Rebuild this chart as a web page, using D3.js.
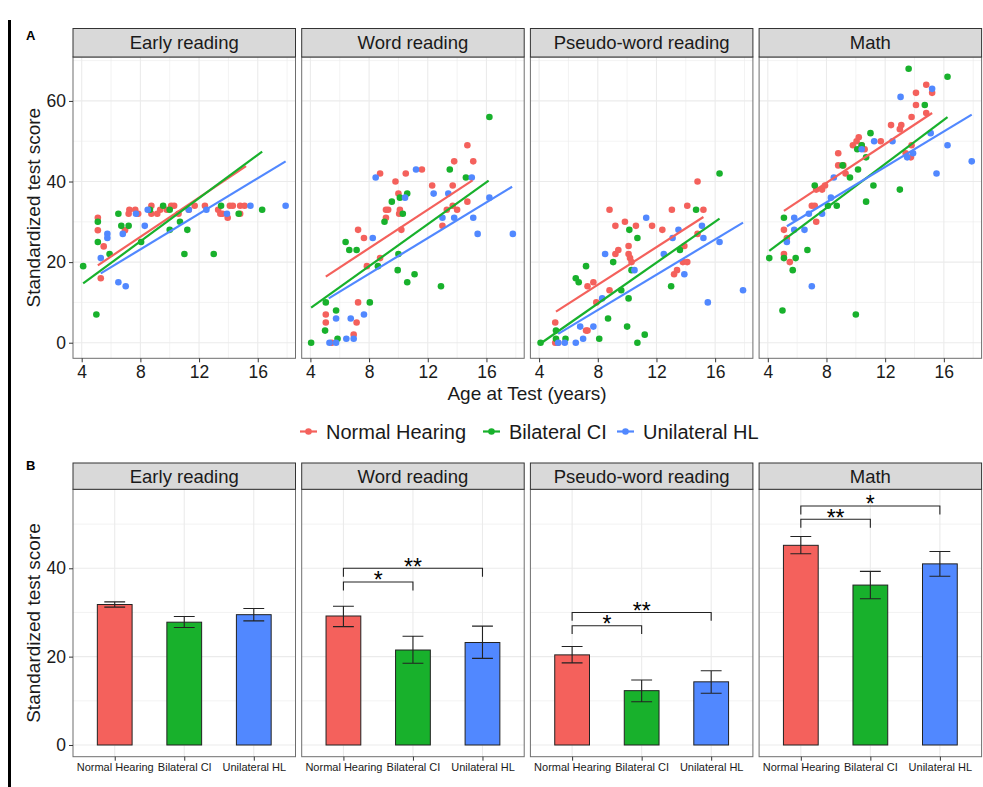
<!DOCTYPE html>
<html>
<head>
<meta charset="utf-8">
<script src="https://cdn.jsdelivr.net/npm/d3@7"></script>
<style>
  body { margin: 0; background: #fff; }
  svg { display: block; font-family: "Liberation Sans", Arial, Helvetica, sans-serif; }
</style>
</head>
<body>
<div id="chart"></div>
<script>
// ---- data ----
const tests = ["Early reading", "Word reading", "Pseudo-word reading", "Math"];
const groups = ["Normal Hearing", "Bilateral CI", "Unilateral HL"];

// panel A: [age, score]
const earlyNH = [[5.1,31],[5.1,27.9],[5.5,23.9],[5.3,16],[6.95,27.9],[7.25,33],[7.2,32],[7.65,33],[7.85,32],[8.75,34],[8.75,32],[9.15,32],[9.35,33],[9.8,33],[10.1,34],[10.3,34],[10.6,32],[11.3,33],[11.7,34],[12.4,34],[13.3,33],[13.45,32],[13.6,32],[13.95,31],[14.1,34],[14.3,34],[14.8,34],[14.8,32],[15.1,34]];
const earlyCI = [[4.1,19],[5.1,30],[5.1,25],[5.0,7],[5.9,22],[6.5,32],[6.7,29],[7.2,29],[8.05,25],[8.65,33],[9.55,34],[10.0,33],[10.0,28],[10.7,30],[11.0,22],[11.2,28],[13.0,22],[13.5,34],[14.7,32],[16.3,33]];
const earlyHL = [[5.3,21],[5.75,27],[5.75,26],[6.5,15],[7.0,14],[6.8,27],[7.7,32],[8.3,29],[8.5,33],[11.3,33],[12.5,33],[13.9,32],[15.5,34],[17.9,34]];

const wordNH = [[5.05,7],[5.05,5],[5.45,0],[6.95,2],[7.15,5],[7.25,10],[7.25,28],[7.65,26],[7.85,19],[8.75,21],[8.75,42],[9.15,31],[9.15,33],[9.3,33],[9.8,40],[10.0,37],[10.05,32],[10.1,33],[10.2,28],[10.5,42],[11.6,43],[12.3,39],[13.0,29],[13.3,33],[13.7,39],[13.7,34],[14.0,33],[13.8,45],[14.7,35],[14.7,49],[15.1,45]];
const wordCI = [[4.05,0],[5.05,10],[5.0,3],[5.75,8],[5.85,1],[6.4,25],[6.65,23],[7.15,23],[8.05,10],[8.6,19],[9.05,30],[9.55,35],[9.95,18],[10.0,22],[10.1,36],[10.3,32],[10.6,37],[10.6,15],[11.1,17],[12.9,14],[13.5,43],[14.6,41],[16.2,56]];
const wordHL = [[5.3,0],[5.75,0],[5.75,6],[6.45,1],[6.95,1],[6.75,6],[7.65,7],[8.25,26],[8.45,41],[10.45,36],[11.2,43],[12.4,37],[13.0,31],[13.4,37],[13.8,31],[15.0,41],[15.1,31],[15.4,27],[16.2,36],[17.8,27]];

const pseudoNH = [[5.1,5],[5.1,0],[5.3,0],[7.2,3],[7.3,3],[7.3,14],[7.7,15],[7.9,10],[8.8,13],[8.8,33],[9.2,29],[9.2,22],[9.4,23],[9.85,30],[10.1,24],[10.1,22],[10.2,21],[10.3,20],[10.6,29],[11.7,29],[12.4,28],[13.05,33],[13.2,17],[13.4,18],[13.8,20],[14.1,20],[13.9,24],[14.1,34],[14.8,40],[14.8,27],[15.2,33]];
const pseudoCI = [[4.1,0],[5.15,3],[5.15,1],[5.8,1],[6.5,16],[6.7,15],[7.2,19],[8.1,1],[8.7,6],[9.05,20],[9.6,13],[10.0,4],[10.1,11],[10.15,28],[10.3,18],[10.7,0],[10.7,26],[11.2,2],[13.0,14],[13.6,23],[14.7,33],[16.3,42]];
const pseudoHL = [[5.3,0],[5.75,0],[6.5,0],[6.8,4],[7.0,1],[7.7,4],[8.3,11],[8.5,22],[10.5,18],[11.3,31],[12.5,22],[13.1,26],[13.5,28],[13.9,17],[15.1,29],[15.2,26],[15.5,10],[16.3,25],[17.9,13]];

const mathNH = [[5.1,28],[5.1,22],[5.3,26],[5.5,20],[7.0,34],[7.2,34],[7.3,30],[7.3,38],[7.7,38],[7.9,39],[8.8,47],[8.8,44],[9.15,44],[9.3,42],[9.8,49],[10.05,50],[10.2,51],[10.4,49],[10.6,48],[11.7,50],[12.4,54],[13.1,54],[13.0,53],[13.4,47],[13.75,46],[13.8,49],[13.8,56],[14.1,59],[14.1,62],[14.8,64],[14.8,57],[15.2,62]];
const mathCI = [[4.1,21],[5.1,31],[5.1,21],[5.0,8],[5.7,18],[5.9,21],[6.7,23],[7.2,39],[8.1,34],[8.7,34],[9.1,44],[9.6,41],[10.0,7],[10.1,48],[10.4,49],[10.15,43],[10.7,46],[10.7,35],[11.0,52],[11.2,39],[13.0,38],[13.6,68],[14.7,59],[16.25,66]];
const mathHL = [[5.3,25],[5.8,28],[5.8,31],[6.5,28],[6.8,32],[7.0,14],[7.7,32],[8.3,36],[8.5,41],[10.4,48],[11.25,50],[12.5,50],[13.05,61],[13.5,46],[13.9,47],[15.1,52],[15.2,63],[15.5,42],[16.25,49],[17.9,45]];

const scatterSets = [
  [earlyNH, earlyCI, earlyHL],
  [wordNH, wordCI, wordHL],
  [pseudoNH, pseudoCI, pseudoHL],
  [mathNH, mathCI, mathHL]
];

// fitted lines per test and group: [x0, y0, x1, y1]
const fitLines = [
  [[5.1,19.2,15.2,43.8],[4.1,14.7,16.3,47.4],[5.3,17.2,17.9,45.0]],
  [[5.05,16.4,15.05,40.3],[4.05,8.7,16.15,40.2],[5.25,11.0,17.75,38.7]],
  [[5.15,7.7,15.2,31.2],[4.1,-0.2,16.3,30.8],[5.3,2.2,17.9,29.8]],
  [[5.1,32.7,15.2,57.0],[4.1,22.8,16.25,56.0],[5.3,28.9,17.9,56.6]]
];

// panel B: group means and error bar bounds
const barMeans = [[31.8,27.8,29.5],[29.2,21.5,23.2],[20.4,12.3,14.3],[45.2,36.2,41.0]];
const barLow   = [[31.2,26.6,28.1],[26.8,18.5,19.6],[18.6,9.8,11.7],[43.3,33.1,38.2]];
const barHigh  = [[32.4,29.1,30.9],[31.4,24.6,26.9],[22.3,14.7,16.8],[47.2,39.3,43.8]];

// significance brackets: [test index, group from, group to, level, label]
const sigBrackets = [
  [1, 0, 1, 36.9, "*"], [1, 0, 2, 40.0, "**"],
  [2, 0, 1, 27.0, "*"], [2, 0, 2, 30.0, "**"],
  [3, 0, 1, 51.1, "**"], [3, 0, 2, 54.1, "*"]
];
const tipLength = 1.9;

const xTicksA = [4, 8, 12, 16];
const yTicksA = [0, 20, 40, 60];
const yTicksB = [0, 20, 40];

// ---- layout ----
const W = 983, H = 787;
const colors = ["#F4615C", "#18B12C", "#5188FF"];
const panelLeft = [73, 301.7, 530.4, 759.1];
const panelW = 222.5;
const A = { stripTop: 28.5, top: 57, bottom: 358.3 };
const B = { stripTop: 463, top: 489.3, bottom: 756.7 };
const borderCol = "#6e6e6e";
const gridCol = "#ebebeb";
const textCol = "#1a1a1a";

const svg = d3.select("#chart").append("svg").attr("width", W).attr("height", H);
svg.append("rect").attr("width", W).attr("height", H).attr("fill", "#fff");

// figure frame line on the left
svg.append("line").attr("x1", 9.5).attr("x2", 9.5).attr("y1", 20).attr("y2", H)
  .attr("stroke", "#000").attr("stroke-width", 3);

svg.append("text").attr("x", 26).attr("y", 40).attr("font-size", 13).attr("font-weight", "bold")
  .attr("fill", "#000").text("A");
svg.append("text").attr("x", 26).attr("y", 470).attr("font-size", 13).attr("font-weight", "bold")
  .attr("fill", "#000").text("B");

const yA = d3.scaleLinear().domain([-3.87, 70.9]).range([A.bottom, A.top]);
const yB = d3.scaleLinear().domain([-2.65, 57.88]).range([B.bottom, B.top]);

function strip(g, x, top, bottom, label) {
  g.append("rect").attr("x", x).attr("y", top).attr("width", panelW).attr("height", bottom - top)
    .attr("fill", "#d9d9d9").attr("stroke", "#333").attr("stroke-width", 1);
  g.append("text").attr("x", x + panelW / 2).attr("y", (top + bottom) / 2 + 6.5)
    .attr("text-anchor", "middle").attr("font-size", 18.5).attr("fill", textCol).text(label);
}

// ---- panel A: scatter with fitted lines ----
tests.forEach((test, ti) => {
  const left = panelLeft[ti];
  const x = d3.scaleLinear().domain([3.407, 18.573]).range([left, left + panelW]);
  const g = svg.append("g");

  // grid (minor + major)
  d3.range(0, 71, 10).forEach(v => {
    g.append("line").attr("x1", left).attr("x2", left + panelW).attr("y1", yA(v)).attr("y2", yA(v))
      .attr("stroke", gridCol).attr("stroke-width", v % 20 === 0 ? 1.1 : 0.6);
  });
  d3.range(4, 19, 2).forEach(v => {
    g.append("line").attr("x1", x(v)).attr("x2", x(v)).attr("y1", A.top).attr("y2", A.bottom)
      .attr("stroke", gridCol).attr("stroke-width", v % 4 === 0 ? 1.1 : 0.6);
  });

  // points
  scatterSets[ti].forEach((pts, gi) => {
    g.selectAll(null).data(pts).join("circle")
      .attr("cx", d => x(d[0])).attr("cy", d => yA(d[1])).attr("r", 3.3)
      .attr("fill", colors[gi]);
  });
  // fitted lines
  fitLines[ti].forEach((f, gi) => {
    g.append("line").attr("x1", x(f[0])).attr("y1", yA(f[1])).attr("x2", x(f[2])).attr("y2", yA(f[3]))
      .attr("stroke", colors[gi]).attr("stroke-width", 2.2);
  });

  g.append("rect").attr("x", left).attr("y", A.top).attr("width", panelW).attr("height", A.bottom - A.top)
    .attr("fill", "none").attr("stroke", borderCol).attr("stroke-width", 1);
  strip(g, left, A.stripTop, A.top, test);

  // x axis
  const xa = g.append("g").attr("transform", `translate(0,${A.bottom})`)
    .call(d3.axisBottom(x).tickValues(xTicksA).tickSize(4).tickSizeOuter(0).tickPadding(3));
  xa.select(".domain").remove();
  xa.selectAll(".tick line").attr("stroke", "#333");
  xa.selectAll(".tick text").attr("font-size", 17.5).attr("fill", textCol).attr("font-family", null);

  if (ti === 0) {
    const ya = g.append("g").attr("transform", `translate(${left},0)`)
      .call(d3.axisLeft(yA).tickValues(yTicksA).tickSize(4).tickSizeOuter(0).tickPadding(3));
    ya.select(".domain").remove();
    ya.selectAll(".tick line").attr("stroke", "#333");
    ya.selectAll(".tick text").attr("font-size", 17.5).attr("fill", textCol).attr("font-family", null);
  }
});

svg.append("text").attr("x", 527).attr("y", 400).attr("text-anchor", "middle")
  .attr("font-size", 19).attr("fill", textCol).text("Age at Test (years)");
svg.append("text").attr("transform", `translate(40,${(A.top + A.bottom) / 2}) rotate(-90)`)
  .attr("text-anchor", "middle").attr("font-size", 19).attr("fill", textCol).text("Standardized test score");

// ---- legend ----
const legendX = [300, 483, 617];
const legend = svg.append("g").attr("transform", "translate(0,431.5)");
groups.forEach((name, gi) => {
  const lx = legendX[gi];
  legend.append("line").attr("x1", lx).attr("x2", lx + 17).attr("y1", 0).attr("y2", 0)
    .attr("stroke", colors[gi]).attr("stroke-width", 2.2);
  legend.append("circle").attr("cx", lx + 8.5).attr("cy", 0).attr("r", 3.3).attr("fill", colors[gi]);
  legend.append("text").attr("x", lx + 26).attr("y", 7).attr("font-size", 20).attr("fill", textCol).text(name);
});

// ---- panel B: bars with error bars ----
tests.forEach((test, ti) => {
  const left = panelLeft[ti];
  const x = d3.scalePoint().domain(groups).range([left, left + panelW]).padding(0.6);
  const step = x.step();
  const g = svg.append("g");

  d3.range(0, 51, 10).forEach(v => {
    g.append("line").attr("x1", left).attr("x2", left + panelW).attr("y1", yB(v)).attr("y2", yB(v))
      .attr("stroke", gridCol).attr("stroke-width", v % 20 === 0 ? 1.1 : 0.6);
  });
  groups.forEach(gr => {
    g.append("line").attr("x1", x(gr)).attr("x2", x(gr)).attr("y1", B.top).attr("y2", B.bottom)
      .attr("stroke", gridCol).attr("stroke-width", 1.1);
  });

  g.selectAll(null).data(groups).join("rect")
    .attr("x", d => x(d) - step * 0.25).attr("width", step * 0.5)
    .attr("y", (d, i) => yB(barMeans[ti][i])).attr("height", (d, i) => yB(0) - yB(barMeans[ti][i]))
    .attr("fill", (d, i) => colors[i]).attr("stroke", "#222").attr("stroke-width", 1);

  groups.forEach((gr, i) => {
    const cx = x(gr), hw = step * 0.15;
    const lo = yB(barLow[ti][i]), hi = yB(barHigh[ti][i]);
    g.append("path").attr("d", `M${cx - hw},${hi}H${cx + hw}M${cx},${hi}V${lo}M${cx - hw},${lo}H${cx + hw}`)
      .attr("fill", "none").attr("stroke", "#222").attr("stroke-width", 1.1);
  });

  sigBrackets.filter(b => b[0] === ti).forEach(b => {
    const x1 = x(groups[b[1]]), x2 = x(groups[b[2]]);
    const yl = yB(b[3]), yt = yB(b[3] - tipLength);
    g.append("path").attr("d", `M${x1},${yt}V${yl}H${x2}V${yt}`)
      .attr("fill", "none").attr("stroke", "#222").attr("stroke-width", 1.1);
    g.append("text").attr("x", (x1 + x2) / 2).attr("y", yl + 6.5).attr("text-anchor", "middle")
      .attr("font-size", 23).attr("fill", "#000").text(b[4]);
  });

  g.append("rect").attr("x", left).attr("y", B.top).attr("width", panelW).attr("height", B.bottom - B.top)
    .attr("fill", "none").attr("stroke", borderCol).attr("stroke-width", 1);
  strip(g, left, B.stripTop, B.top, test);

  const xa = g.append("g").attr("transform", `translate(0,${B.bottom})`)
    .call(d3.axisBottom(x).tickSize(4).tickSizeOuter(0).tickPadding(3));
  xa.select(".domain").remove();
  xa.selectAll(".tick line").attr("stroke", "#333");
  xa.selectAll(".tick text").attr("font-size", 11).attr("fill", textCol).attr("font-family", null);

  if (ti === 0) {
    const ya = g.append("g").attr("transform", `translate(${left},0)`)
      .call(d3.axisLeft(yB).tickValues(yTicksB).tickSize(4).tickSizeOuter(0).tickPadding(3));
    ya.select(".domain").remove();
    ya.selectAll(".tick line").attr("stroke", "#333");
    ya.selectAll(".tick text").attr("font-size", 17.5).attr("fill", textCol).attr("font-family", null);
  }
});

svg.append("text").attr("transform", `translate(40,${(B.top + B.bottom) / 2}) rotate(-90)`)
  .attr("text-anchor", "middle").attr("font-size", 19).attr("fill", textCol).text("Standardized test score");
</script>
</body>
</html>
